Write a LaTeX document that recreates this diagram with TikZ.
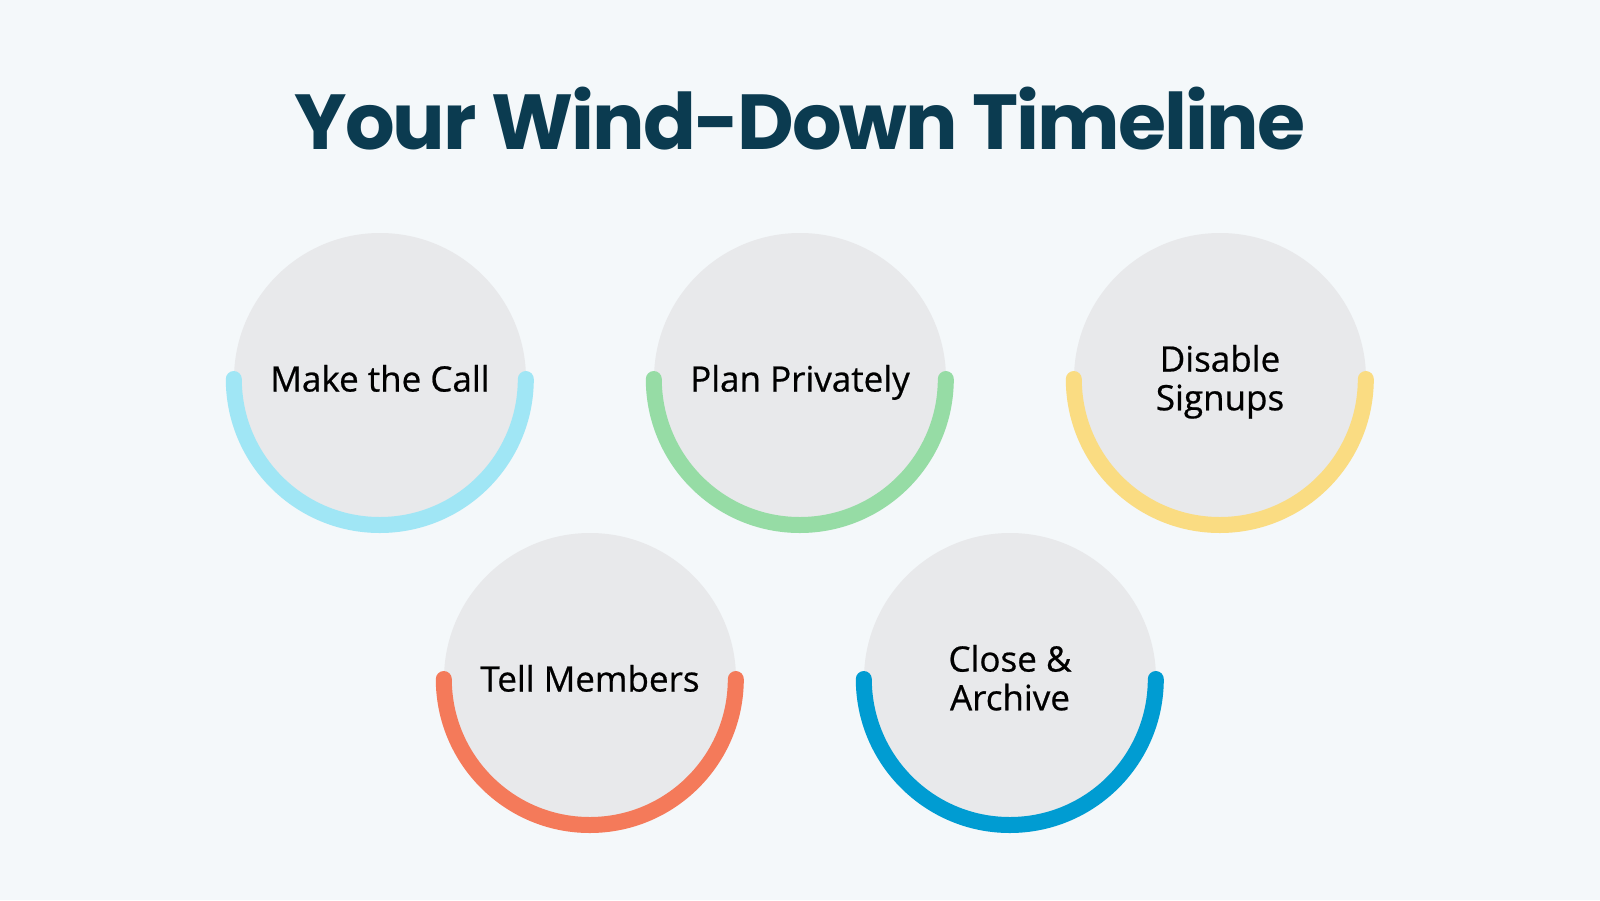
\documentclass[tikz,border=0pt]{standalone}
\usepackage{fontspec}
\setmainfont{Open Sans}[FakeBold=0.6]
\newfontfamily\titlefont{Poppins}[UprightFont=* Bold, LetterSpace=-2.5]
\usepackage{tikz}

\definecolor{bgcol}{HTML}{F4F8FA}
\definecolor{discol}{HTML}{E8E9EB}
\definecolor{titlecol}{HTML}{0B3B50}
\definecolor{skycol}{HTML}{A0E6F5}
\definecolor{mintcol}{HTML}{96DCA5}
\definecolor{sandcol}{HTML}{FADC82}
\definecolor{coralcol}{HTML}{F47A5A}
\definecolor{oceancol}{HTML}{009CD2}

\tikzset{
  stage/.style={circle, fill=discol, minimum size=292pt, inner sep=0pt,
    align=center, text=black, font=\fontsize{35}{38.7}\selectfont,
    text height=25pt, text depth=0pt},
  twoline/.style={text height=62.5pt},
  rim/.style={line width=16pt, line cap=round}
}

\begin{document}
\begin{tikzpicture}[x=1pt, y=-1pt]

  % --- canvas ---
  \fill[bgcol] (0,0) rectangle (1600,900);
  \useasboundingbox (0,0) rectangle (1600,900);

  % --- title ---
  \node[anchor=base, text=titlecol, font=\titlefont\fontsize{78}{84}\selectfont]
    (title) at (800,149) {Your Wind-Down Timeline};

  % --- top row ---
  \node[stage] (call) at (380,379) {Make the Call};
  \node[stage] (plan) at (800,379) {Plan Privately};
  \node[stage, twoline] (signups) at (1220,379) {Disable\\Signups};

  % --- bottom row ---
  \node[stage] (tell) at (590,679) {Tell Members};
  \node[stage, twoline] (archive) at (1010,679) {Close \&\\Archive};

  % --- half rims under each stage ---
  \draw[rim, skycol] (call.west) arc[start angle=180, end angle=360, radius=146pt];
  \draw[rim, mintcol] (plan.west) arc[start angle=180, end angle=360, radius=146pt];
  \draw[rim, sandcol] (signups.west) arc[start angle=180, end angle=360, radius=146pt];
  \draw[rim, coralcol] (tell.west) arc[start angle=180, end angle=360, radius=146pt];
  \draw[rim, oceancol] (archive.west) arc[start angle=180, end angle=360, radius=146pt];

\end{tikzpicture}
\end{document}
